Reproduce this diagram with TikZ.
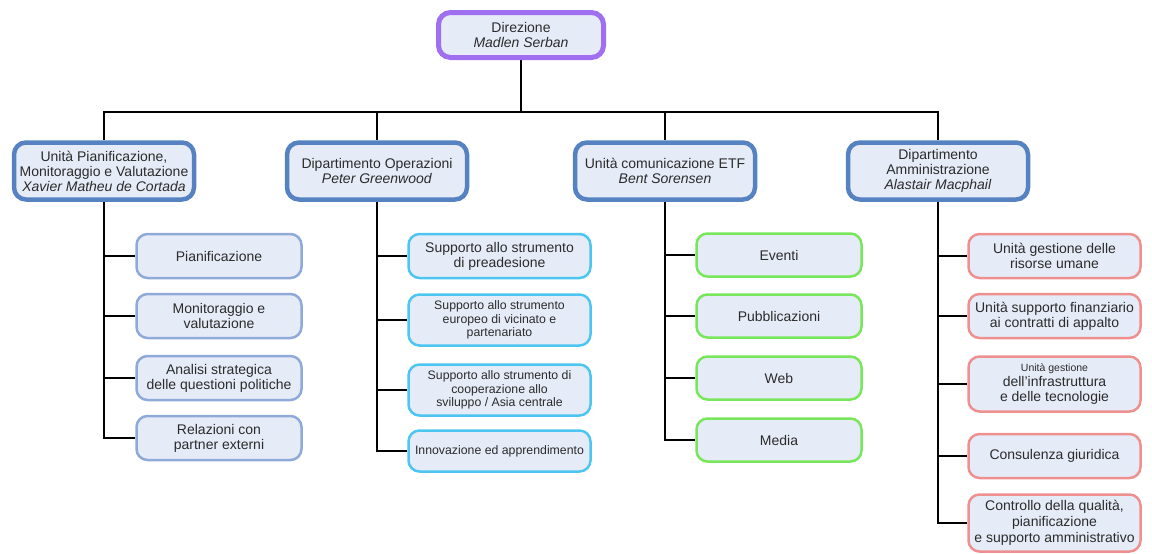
\documentclass[tikz,border=0pt]{standalone}
\usepackage{fontspec}
\setmainfont{Liberation Sans}
\usepackage{xcolor}
\usepackage{tikz}
\usetikzlibrary{positioning,backgrounds}
\definecolor{orgText}{HTML}{2B2B2B}
\definecolor{orgFill}{HTML}{E6ECF7}
\definecolor{orgTop}{HTML}{A06FF0}
\definecolor{orgHead}{HTML}{5682C2}
\definecolor{orgPlan}{HTML}{8FA9D9}
\definecolor{orgOps}{HTML}{4CC6F0}
\definecolor{orgCom}{HTML}{78E65A}
\definecolor{orgAdm}{HTML}{EE9090}

\begin{document}
\begin{tikzpicture}[x=1pt,y=-1pt,
  box/.style={fill=orgFill,text=orgText,align=center,inner sep=1pt,
    font=\fontsize{14}{15}\selectfont},
  dirbox/.style={box,draw=orgTop,line width=5pt,rounded corners=12pt,
    minimum width=165pt,minimum height=45pt},
  deptbox/.style={box,draw=orgHead,line width=4.5pt,rounded corners=12pt,
    minimum width=180pt,minimum height=57pt},
  unitbox/.style={box,line width=2.5pt,rounded corners=11pt,minimum height=44pt},
  plan/.style={unitbox,draw=orgPlan,minimum width=165pt},
  ops/.style={unitbox,draw=orgOps,minimum width=182pt},
  com/.style={unitbox,draw=orgCom,minimum width=165pt,minimum height=43pt},
  adm/.style={unitbox,draw=orgAdm,minimum width=172pt},
  smalltxt/.style={font=\fontsize{12.3}{13.5}\selectfont},
  link/.style={draw=black,line width=2pt}
]
\useasboundingbox (0,0) rectangle (1152,554);

\node[dirbox] (dir) at (521,35) {Direzione\\\textit{Madlen Serban}};

\node[deptbox] (pmv) at (104,171) {Unità Pianificazione,\\Monitoraggio e Valutazione\\\textit{Xavier Matheu de Cortada}};
\node[deptbox] (opd) at (377,171) {Dipartimento Operazioni\\\textit{Peter Greenwood}};
\node[deptbox] (etf) at (665,171) {Unità comunicazione ETF\\\textit{Bent Sorensen}};
\node[deptbox] (amm) at (938,171) {Dipartimento\\Amministrazione\\\textit{Alastair Macphail}};

\node[plan] (pia) at (219,256) {Pianificazione};
\node[plan] (mon) at (219,316) {Monitoraggio e\\valutazione};
\node[plan] (ana) at (219,378) {Analisi strategica\\delle questioni politiche};
\node[plan] (rel) at (219,438) {Relazioni con\\partner externi};

\node[ops] (pre) at (499.5,256) {Supporto allo strumento\\di preadesione};
\node[ops,smalltxt,minimum height=51pt] (enp) at (499.5,320) {Supporto allo strumento\\europeo di vicinato e\\partenariato};
\node[ops,smalltxt,minimum height=51pt] (dci) at (499.5,390) {Supporto allo strumento di\\cooperazione allo\\sviluppo / Asia centrale};
\node[ops,smalltxt,minimum height=41pt] (inn) at (499.5,451) {Innovazione ed apprendimento};

\node[com] (eve) at (779,255) {Eventi};
\node[com] (pub) at (779,316) {Pubblicazioni};
\node[com] (web) at (779,378) {Web};
\node[com] (med) at (779,440) {Media};

\node[adm] (hr) at (1054.5,256) {Unità gestione delle\\risorse umane};
\node[adm] (fin) at (1054.5,316) {Unità supporto finanziario\\ai contratti di appalto};
\node[adm,minimum height=55pt] (inf) at (1054.5,384) {{\fontsize{10.5}{12}\selectfont Unità gestione}\\dell’infrastruttura\\e delle tecnologie};
\node[adm] (leg) at (1054.5,456) {Consulenza giuridica};
\node[adm,minimum height=57pt,font=\fontsize{14}{16}\selectfont] (qua) at (1054.5,523) {Controllo della qualità,\\pianificazione\\e supporto amministrativo};

\begin{scope}[on background layer]
\coordinate (bus) at (0,112);
\foreach \h in {pmv,opd,etf,amm}
  \draw[link] (dir.south) -- (dir.south |- bus) -| (\h.north);
\foreach \c in {pia,mon,ana,rel}
  \draw[link] (pmv.south) |- (\c.west);
\foreach \c in {pre,enp,dci,inn}
  \draw[link] (opd.south) |- (\c.west);
\foreach \c in {eve,pub,web,med}
  \draw[link] (etf.south) |- (\c.west);
\foreach \c in {hr,fin,inf,leg,qua}
  \draw[link] (amm.south) |- (\c.west);
\end{scope}
\end{tikzpicture}
\end{document}
